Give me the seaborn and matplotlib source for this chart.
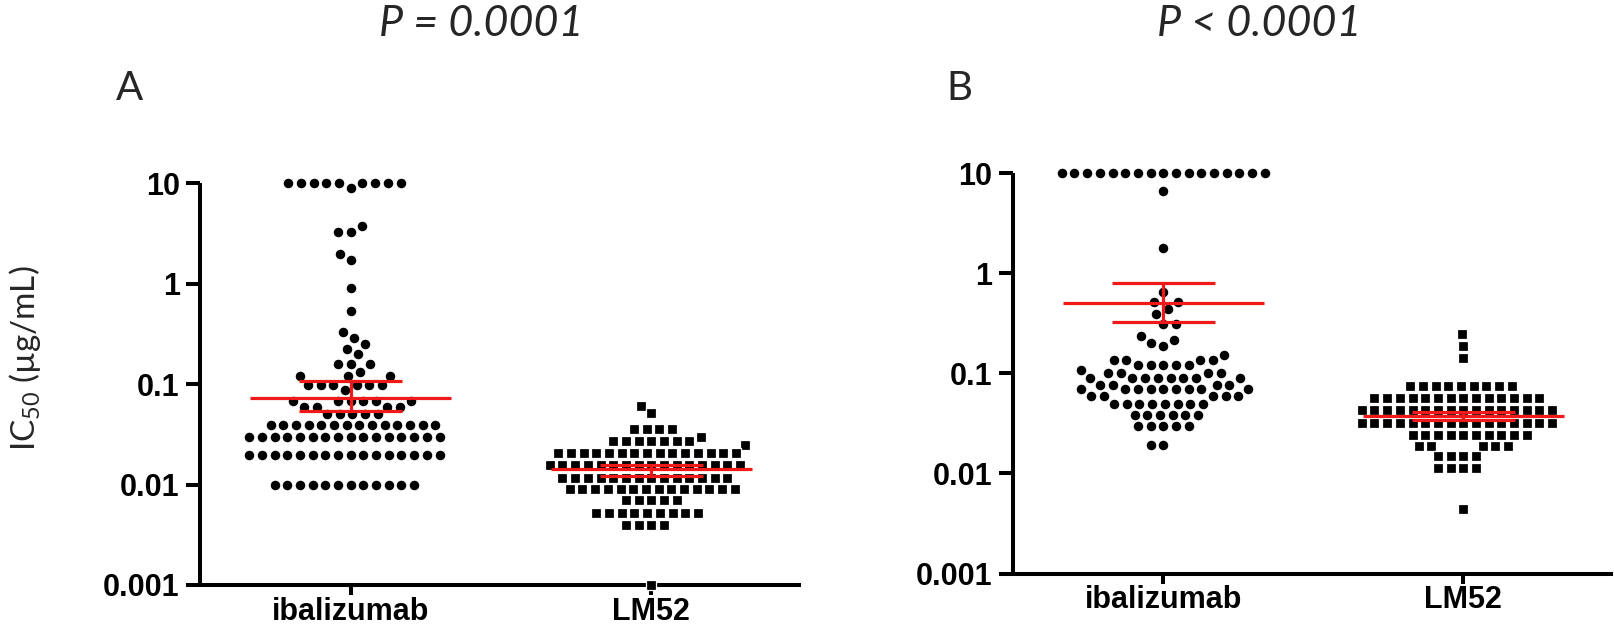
import numpy as np
import pandas as pd
import matplotlib
matplotlib.use("Agg")
import matplotlib.pyplot as plt
import seaborn as sns
from matplotlib.ticker import NullLocator

# ---------------- data ----------------
categories = ["ibalizumab", "LM52"]
panel_letters = ["A", "B"]
p_titles = ["P = 0.0001", "P < 0.0001"]
ytick_values = [0.001, 0.01, 0.1, 1, 10]
ytick_labels = ["0.001", "0.01", "0.1", "1", "10"]
y_label = "IC$_{50}$ (µg/mL)"

# Panel A - ibalizumab (IC50 level, number of viruses at that level)
a_iba_levels = [10, 9.0, 3.75, 3.3, 1.96, 1.72, 0.91, 0.54, 0.328, 0.286, 0.25, 0.226,
                0.198, 0.158, 0.133, 0.12, 0.097, 0.087, 0.068, 0.0596, 0.050, 0.039,
                0.030, 0.0195, 0.010]
a_iba_counts = [9, 1, 1, 2, 1, 1, 1, 1, 1, 1, 1, 1,
                1, 3, 1, 3, 6, 1, 6, 4, 5, 14,
                16, 16, 12]
# Panel A - LM52
a_lm_levels = [0.061, 0.052, 0.0355, 0.030, 0.0274, 0.025, 0.0204, 0.0157, 0.0117,
               0.0090, 0.0070, 0.0052, 0.0040, 0.0010]
a_lm_counts = [1, 1, 4, 1, 7, 1, 15, 16, 14,
               14, 5, 9, 4, 1]
# Panel B - ibalizumab
b_iba_levels = [10, 6.6, 1.79, 0.645, 0.513, 0.44, 0.39, 0.31, 0.235, 0.217, 0.20,
                0.186, 0.151, 0.135, 0.12, 0.109, 0.10, 0.090, 0.077, 0.070, 0.059,
                0.050, 0.0387, 0.0296, 0.0194]
b_iba_counts = [17, 1, 1, 1, 2, 1, 1, 2, 1, 1, 1,
                1, 1, 4, 5, 1, 4, 8, 4, 9, 5,
                8, 6, 5, 2]
# Panel B - LM52
b_lm_levels = [0.249, 0.189, 0.143, 0.074, 0.0563, 0.0426, 0.0322, 0.0243, 0.0190,
               0.0150, 0.0113, 0.0044]
b_lm_counts = [1, 1, 1, 9, 14, 16, 16, 10, 5,
               4, 4, 1]

# geometric mean and error bars
a_center = [0.0733, 0.0142]
a_low = [0.0543, 0.0122]
a_high = [0.1074, 0.0156]
b_center = [0.505, 0.0372]
b_low = [0.330, 0.0340]
b_high = [0.798, 0.0408]

# ---------------- styling ----------------
sns.set_style("ticks")
plt.rcParams["font.family"] = ["Liberation Sans", "DejaVu Sans"]
plt.rcParams["mathtext.fontset"] = "custom"
plt.rcParams["mathtext.rm"] = "Lato"
plt.rcParams["mathtext.it"] = "Lato:italic"

W, H = 1615, 627
fig = plt.figure(figsize=(W / 100, H / 100), dpi=100)

RED = "#f01818"
SPINE_LW = 2.9

panels = [
    dict(rect=[200.5 / W, (H - 585) / H, 601 / W, (585 - 183.3) / H],
         iba=(a_iba_levels, a_iba_counts), lm=(a_lm_levels, a_lm_counts),
         center=a_center, low=a_low, high=a_high),
    dict(rect=[1013.3 / W, (H - 573.5) / H, 600 / W, (573.5 - 173.3) / H],
         iba=(b_iba_levels, b_iba_counts), lm=(b_lm_levels, b_lm_counts),
         center=b_center, low=b_low, high=b_high),
]

for p in panels:
    ax = fig.add_axes(p["rect"])
    df = pd.concat([
        pd.DataFrame({"group": categories[0],
                      "IC50": np.repeat(p["iba"][0], p["iba"][1])}),
        pd.DataFrame({"group": categories[1],
                      "IC50": np.repeat(p["lm"][0], p["lm"][1])}),
    ], ignore_index=True)
    for grp, mk in zip(categories, ["o", "s"]):
        sns.swarmplot(data=df[df["group"] == grp], x="group", y="IC50", order=categories,
                      marker=mk, color="black", size=7.8, edgecolor="white",
                      linewidth=0.9, log_scale=True, ax=ax, clip_on=False,
                      warn_thresh=1.0, zorder=3)
    # geometric mean with error bars
    for i in range(len(categories)):
        ax.hlines(p["center"][i], i - 0.335, i + 0.335, color=RED, lw=2.3, zorder=5,
                  clip_on=False)
        ax.hlines([p["low"][i], p["high"][i]], i - 0.172, i + 0.172, color=RED, lw=2.3,
                  zorder=5, clip_on=False)
        ax.vlines(i, p["low"][i], p["high"][i], color=RED, lw=2.3, zorder=5, clip_on=False)

    ax.set_xlim(-0.5, 1.5)
    ax.set_ylim(0.001, 10)
    ax.set_yticks(ytick_values)
    ax.set_yticklabels(ytick_labels)
    ax.yaxis.set_minor_locator(NullLocator())
    ax.set_xticks(range(len(categories)))
    ax.set_xticklabels(categories)
    ax.set_xlabel("")
    ax.set_ylabel("")
    for lab in ax.get_xticklabels() + ax.get_yticklabels():
        lab.set_fontweight("bold")
        lab.set_fontsize(22)
    ax.tick_params(axis="y", length=10, width=SPINE_LW, pad=5, colors="black")
    ax.tick_params(axis="x", length=7, width=SPINE_LW, pad=1.5, colors="black")
    for side in ["top", "right"]:
        ax.spines[side].set_visible(False)
    for side in ["left", "bottom"]:
        ax.spines[side].set_linewidth(SPINE_LW)
        ax.spines[side].set_color("black")
        ax.spines[side].set_capstyle("butt")
    ax.patch.set_alpha(0)

# titles, panel letters, y label
for x, t in zip([481, 1259], p_titles):
    fig.text(x / W, 1 - 36 / H, t, ha="center", va="baseline", fontsize=31,
             style="italic", family=["Lato", "DejaVu Sans"])
for x, t in zip([130, 959], panel_letters):
    fig.text(x / W, 1 - 100 / H, t, ha="center", va="baseline", fontsize=29,
             family=["Lato", "DejaVu Sans"])
fig.text(25 / W, 1 - 358 / H, y_label, rotation=90, ha="center", va="center",
         fontsize=24, family=["Lato", "DejaVu Sans"])

fig.savefig("out.png", dpi=100)
